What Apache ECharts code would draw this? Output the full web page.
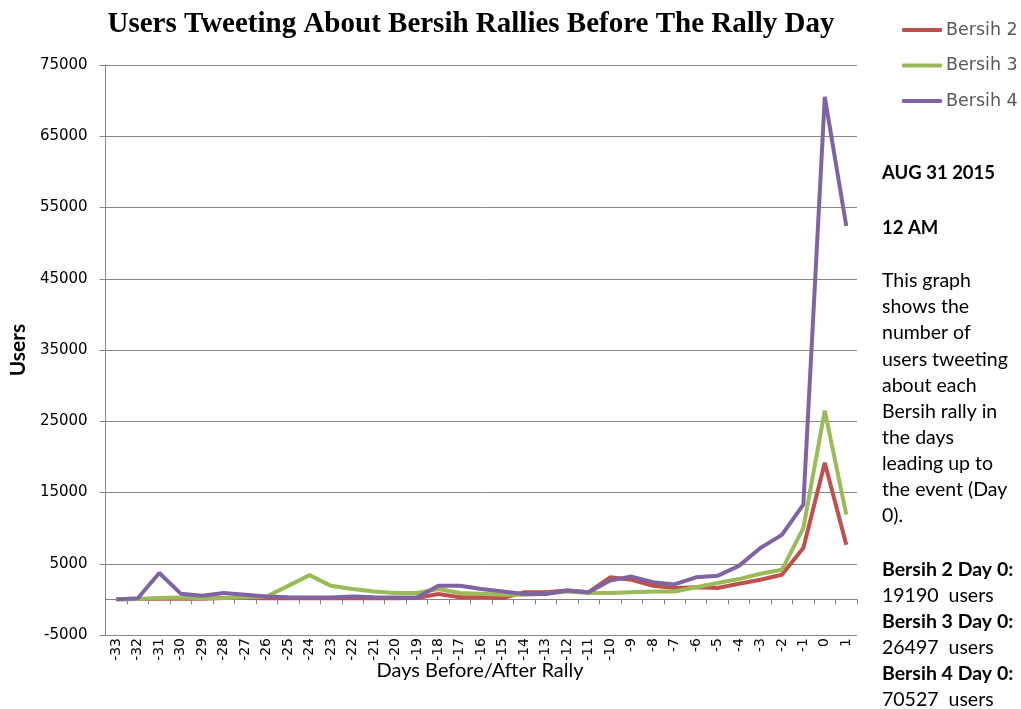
<!DOCTYPE html>
<html>
<head>
<meta charset="utf-8">
<script src="https://cdn.jsdelivr.net/npm/echarts@6/dist/echarts.min.js"></script>
<style>
html,body{margin:0;padding:0;background:#fff;}
#chart{width:1021px;height:709px;}
</style>
</head>
<body>
<div id="chart"></div>
<script>
const days = ['-33','-32','-31','-30','-29','-28','-27','-26','-25','-24','-23','-22','-21','-20','-19','-18','-17','-16','-15','-14','-13','-12','-11','-10','-9','-8','-7','-6','-5','-4','-3','-2','-1','0','1'];
const bersih2 = [0,50,100,100,100,200,200,150,150,150,150,200,150,150,200,750,300,300,200,1000,1000,1250,1000,3100,2750,1900,1600,1700,1600,2200,2750,3450,7200,19190,7650];
const bersih3 = [0,50,200,250,150,200,300,400,1900,3400,1900,1450,1100,880,900,1450,900,800,650,650,800,1100,900,900,1000,1100,1100,1700,2300,2850,3600,4150,10000,26497,11900];
const bersih4 = [0,150,3700,800,500,900,650,400,300,250,250,400,300,250,250,1900,1900,1450,1100,750,750,1250,1000,2650,3200,2400,2100,3100,3300,4700,7200,9050,13300,70527,52400];
const seriesNames = ['Bersih 2','Bersih 3','Bersih 4'];
const titleText = 'Users Tweeting About Bersih Rallies Before The Rally Day';
const xAxisTitle = 'Days Before/After Rally';
const yAxisTitle = 'Users';
const sideBold1 = 'AUG 31 2015';
const sideBold2 = '12 AM';
const sideLines = ['This graph','shows the','number of','users tweeting','about each','Bersih rally in','the days','leading up to','the event (Day','0).'];
const dayZero = [['Bersih 2 Day 0:','19190  users'],['Bersih 3 Day 0:','26497  users'],['Bersih 4 Day 0:','70527  users']];

const colors = ['#C0504D','#9BBB59','#8064A2'];
const chart = echarts.init(document.getElementById('chart'));
const sideFont = 'Lato';
const graphics = [
  {type:'text', x:471, y:25, style:{text:titleText, font:'bold 29px "Liberation Serif"', fill:'#000', textAlign:'center', textVerticalAlign:'middle'}},
  {type:'text', x:480, y:671, style:{text:xAxisTitle, font:'20px '+sideFont, fill:'#000', textAlign:'center', textVerticalAlign:'middle'}},
  {type:'text', x:882, y:173, style:{text:sideBold1, font:'bold 18.5px '+sideFont, fill:'#000', textVerticalAlign:'middle'}},
  {type:'text', x:882, y:228, style:{text:sideBold2, font:'bold 18.5px '+sideFont, fill:'#000', textVerticalAlign:'middle'}}
];
sideLines.forEach((t,i)=>graphics.push({type:'text', x:882, y:281+i*26.1, style:{text:t, font:'19.5px '+sideFont, fill:'#000', textVerticalAlign:'middle'}}));
dayZero.forEach((p,i)=>{
  graphics.push({type:'text', x:882, y:570+i*52, style:{text:p[0], font:'bold 19.5px '+sideFont, fill:'#000', textVerticalAlign:'middle'}});
  graphics.push({type:'text', x:882, y:596+i*52, style:{text:p[1], font:'19.5px '+sideFont, fill:'#000', textVerticalAlign:'middle'}});
});

chart.setOption({
  animation:false,
  color:colors,
  grid:{left:103,right:164,top:65,bottom:74,containLabel:false},
  legend:{
    orient:'vertical', left:902, top:20, padding:0, itemWidth:40, itemHeight:4, itemGap:15.5,
    icon:'roundRect',
    textStyle:{fontFamily:'DejaVu Sans', fontSize:17.5, color:'#595959', lineHeight:20, padding:[0,0,0,-1]},
    data:seriesNames
  },
  xAxis:{
    type:'category', data:days, boundaryGap:true,
    axisLine:{onZero:true, lineStyle:{color:'#868686', width:1}},
    axisTick:{show:true, length:5, lineStyle:{color:'#868686'}},
    axisLabel:{rotate:90, interval:0, fontFamily:'DejaVu Sans', fontSize:14, color:'#000', margin:3}
  },
  yAxis:{
    type:'value', min:-5000, max:75000, interval:10000,
    axisLine:{show:true, lineStyle:{color:'#868686'}},
    axisTick:{show:true, length:6, lineStyle:{color:'#868686'}},
    splitLine:{show:true, lineStyle:{color:'#868686', width:1}},
    axisLabel:{fontFamily:'DejaVu Sans', fontSize:15, color:'#000', margin:18, formatter:v=>String(v)},
    name:yAxisTitle, nameLocation:'middle', nameGap:76, nameRotate:90,
    nameTextStyle:{fontFamily:sideFont, fontSize:21, fontWeight:'bold', color:'#000'}
  },
  series:[
    {name:seriesNames[0], type:'line', data:bersih2, showSymbol:false, symbol:'none', lineStyle:{width:4}},
    {name:seriesNames[1], type:'line', data:bersih3, showSymbol:false, symbol:'none', lineStyle:{width:4}},
    {name:seriesNames[2], type:'line', data:bersih4, showSymbol:false, symbol:'none', lineStyle:{width:4}}
  ],
  graphic:graphics
});
</script>
</body>
</html>
